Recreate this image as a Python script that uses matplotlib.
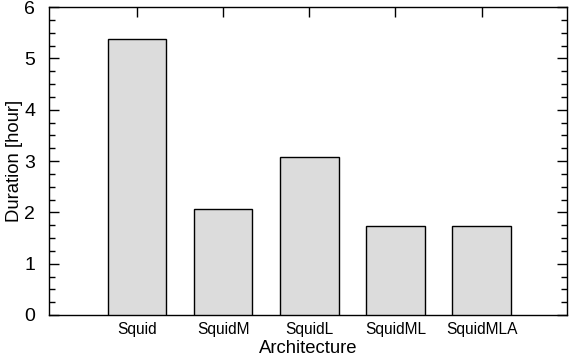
# Duration per architecture - bar chart in gnuplot style
import matplotlib
matplotlib.use("Agg")
import matplotlib.pyplot as plt
from matplotlib.ticker import MultipleLocator

# --- Data ---
architectures = ["Squid", "SquidM", "SquidL", "SquidML", "SquidMLA"]
duration_hours = [5.37, 2.06, 3.08, 1.73, 1.73]

plt.rcParams['font.family'] = ['Liberation Sans', 'DejaVu Sans']

fig = plt.figure(figsize=(5.71, 3.56), dpi=100)
ax = fig.add_axes([0.0858, 0.1152, 0.9072, 0.8648])

positions = list(range(len(architectures)))
ax.bar(positions, duration_hours, width=0.68, color="#dcdcdc",
       edgecolor="black", linewidth=1.0, zorder=3)

ax.set_xlim(-1.02, 4.99)
ax.set_ylim(0, 6)
ax.set_xticks(positions)
ax.set_xticklabels(architectures, fontsize=11.2)
ax.yaxis.set_major_locator(MultipleLocator(1))
ax.yaxis.set_minor_locator(MultipleLocator(0.25))

ax.tick_params(axis='x', direction='in', bottom=False, top=True,
               length=7, width=1, pad=5)
ax.tick_params(axis='y', which='major', direction='in', left=True, right=True,
               length=7, width=1, labelsize=14, pad=10)
ax.tick_params(axis='y', which='minor', direction='in', left=True, right=True,
               length=4, width=1)

for s in ax.spines.values():
    s.set_linewidth(1.0)

ax.set_xlabel("Architecture", fontsize=13.3, labelpad=2.5)
ax.set_ylabel("Duration [hour]", fontsize=13.3, labelpad=1)

fig.savefig("out.png", dpi=100)
